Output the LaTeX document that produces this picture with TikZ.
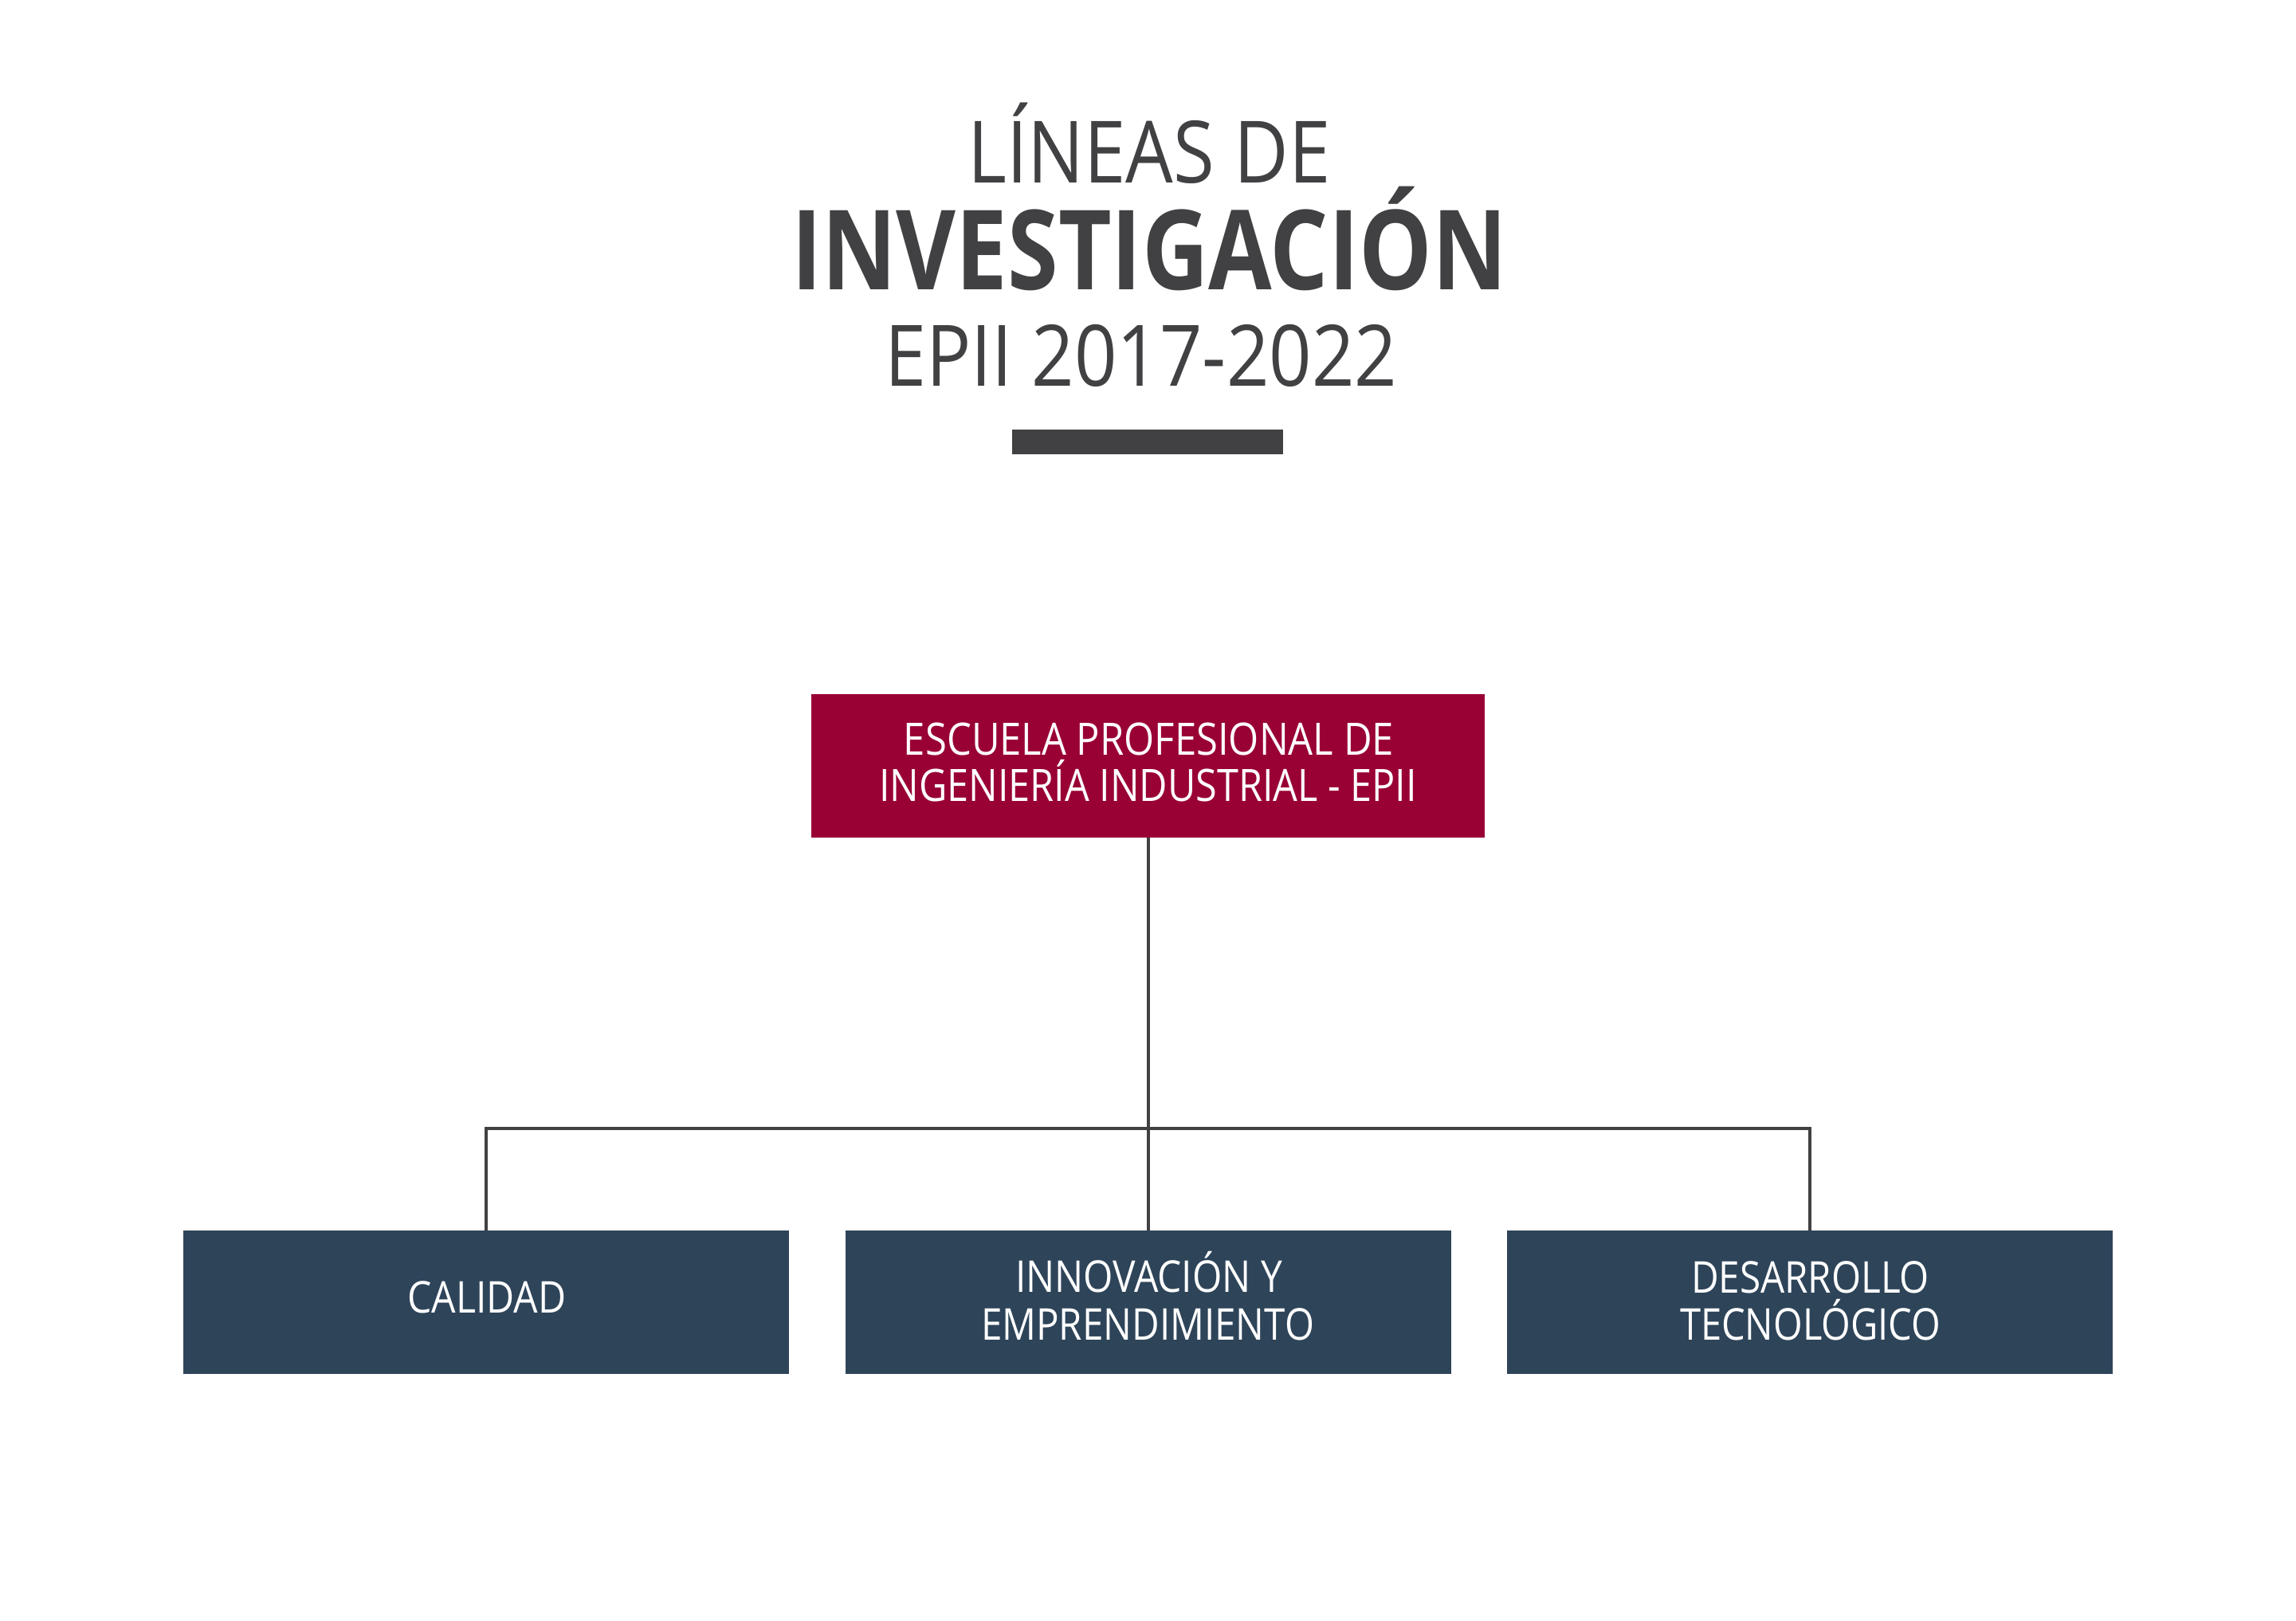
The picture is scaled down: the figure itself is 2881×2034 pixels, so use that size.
\documentclass[tikz,border=0pt]{standalone}
\usepackage{graphicx}
\usepackage{fontspec}
\setmainfont{Open Sans}
\definecolor{epiired}{HTML}{990034}
\definecolor{epiinavy}{HTML}{2E4459}
\definecolor{epiigray}{HTML}{414143}
\newcommand{\fitw}[2]{\resizebox{#1pt}{\height}{#2}}
\tikzset{
  titletext/.style={anchor=base, inner sep=0pt, text=epiigray},
  boxtext/.style={anchor=base, inner sep=0pt, text=white, font=\fontsize{56}{60}\selectfont},
  redbox/.style={rectangle, fill=epiired, draw=none, minimum width=845pt, minimum height=180pt, inner sep=0pt},
  navybox/.style={rectangle, fill=epiinavy, draw=none, minimum width=760pt, minimum height=180pt, inner sep=0pt},
  conn/.style={draw=epiigray, line width=4pt, line join=miter},
}
\begin{document}
\begin{tikzpicture}[x=1pt, y=-1pt]
\useasboundingbox (0,0) rectangle (2881,2034);
\fill[white] (0,0) rectangle (2881,2034);

% title
\node[titletext, font=\fontsize{108}{110}\selectfont] (t1) at (1442,229) {\fitw{455}{LÍNEAS DE}};
\node[titletext, font=\bfseries\fontsize{139}{140}\selectfont] (t2) at (1442,363) {\fitw{898}{INVESTIGACIÓN}};
\node[titletext, font=\fontsize{106.5}{110}\selectfont] (t3) at (1431.5,484) {\fitw{643}{EPII 2017-2022}};
\node[rectangle, fill=epiigray, minimum width=340pt, minimum height=31pt, inner sep=0pt] (bar) at (1440,554.5) {};

% boxes
\node[redbox] (top) at (1440.5,961) {};
\node[navybox] (calidad) at (610,1634) {};
\node[navybox] (innov) at (1440.5,1634) {};
\node[navybox] (desarrollo) at (2270.5,1634) {};

% box texts
\node[boxtext] (top1) at (1441.5,947) {\fitw{615}{ESCUELA PROFESIONAL DE}};
\node[boxtext] (top2) at (1440.5,1005) {\fitw{675}{INGENIERÍA INDUSTRIAL - EPII}};
\node[boxtext, font=\fontsize{55}{60}\selectfont] (cal1) at (611,1647) {\fitw{199}{CALIDAD}};
\node[boxtext, font=\fontsize{55}{60}\selectfont] (inn1) at (1441.5,1621) {\fitw{335}{INNOVACIÓN Y}};
\node[boxtext, font=\fontsize{55}{60}\selectfont] (inn2) at (1440,1681) {\fitw{418}{EMPRENDIMIENTO}};
\node[boxtext, font=\fontsize{55}{60}\selectfont] (des1) at (2271.5,1622) {\fitw{299}{DESARROLLO}};
\node[boxtext, font=\fontsize{55}{60}\selectfont] (des2) at (2271.5,1681) {\fitw{327}{TECNOLÓGICO}};

% connectors
\coordinate (j) at (1440.5,1416);
\draw[conn] (top.south) -- (innov.north);
\draw[conn] (calidad.north) |- (j) -| (desarrollo.north);
\end{tikzpicture}
\end{document}
